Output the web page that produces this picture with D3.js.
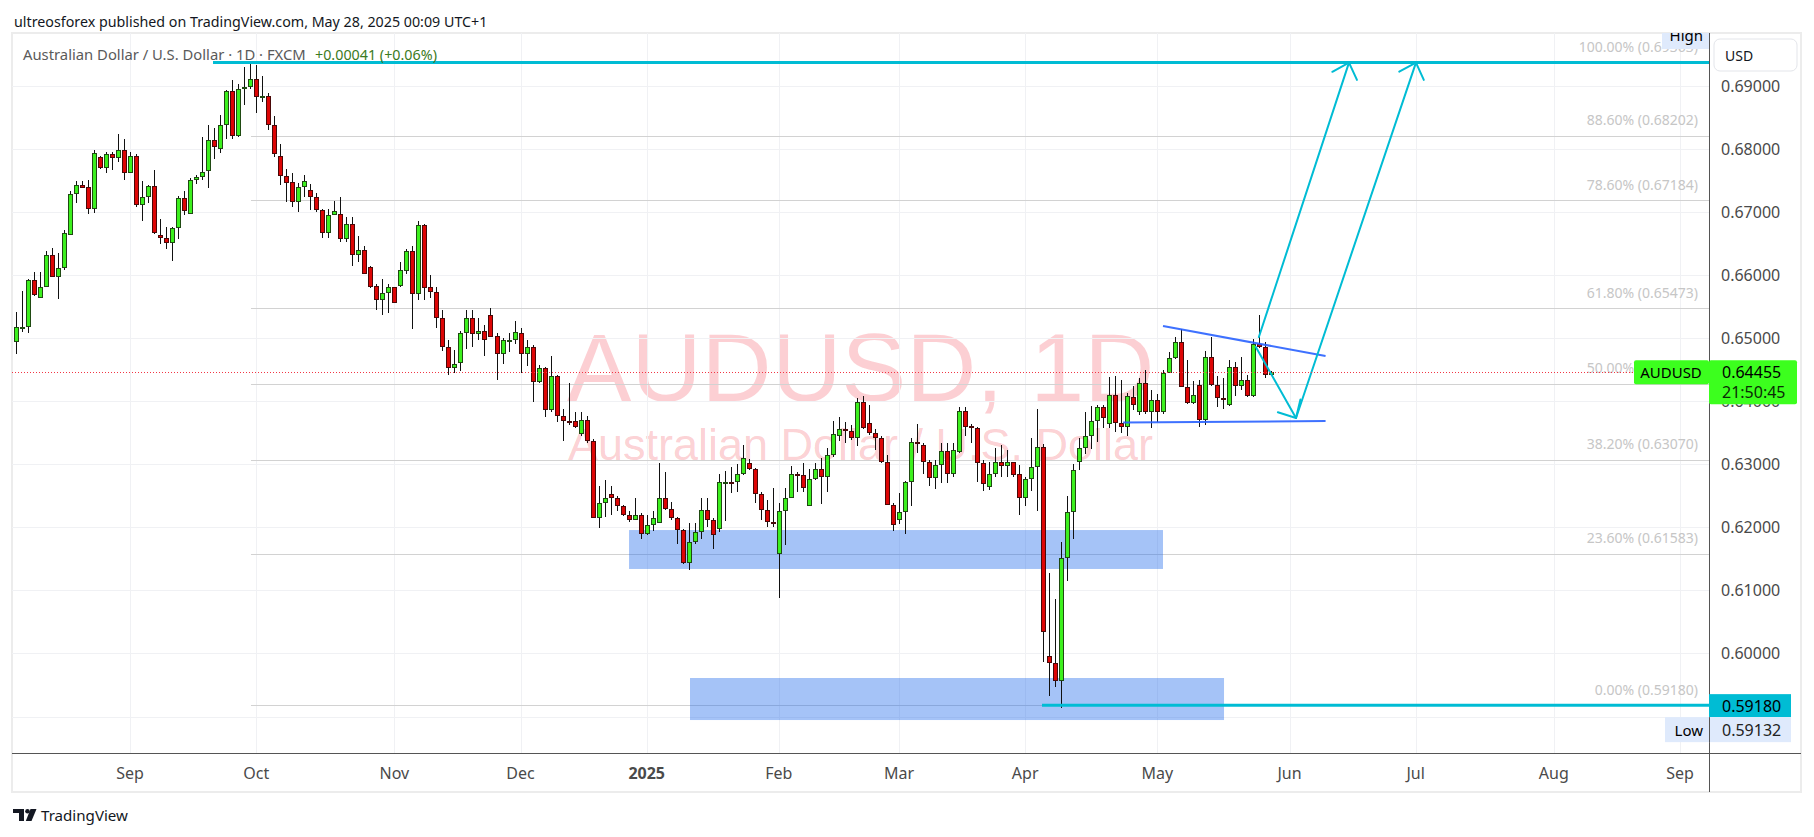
<!DOCTYPE html>
<html><head><meta charset="utf-8">
<script src="https://cdn.jsdelivr.net/npm/d3@7"></script>
<style>html,body{margin:0;padding:0;background:#fff;} svg{display:block}</style>
</head><body>
<svg id="c" width="1814" height="837"></svg>
<script>
// ---------------- DATA ----------------
const startDate = "2024-08-06";
const holidays = ["2024-12-25", "2025-01-01"];

const open = [
0.6493,0.6515,0.6517,0.6592,0.6564,0.6581,0.6632,0.6596,0.6610,0.6663,
0.6728,0.6743,0.6739,0.6704,0.6787,0.6770,0.6791,0.6785,0.6797,0.6762,
0.6789,0.6710,0.6724,0.6740,0.6663,0.6659,0.6651,0.6674,0.6721,0.6697,
0.6750,0.6755,0.6764,0.6814,0.6800,0.6837,0.6891,0.6820,0.6894,0.6898,
0.6911,0.6881,0.6884,0.6838,0.6788,0.6756,0.6747,0.6716,0.6739,0.6734,
0.6724,0.6702,0.6666,0.6695,0.6697,0.6657,0.6681,0.6632,0.6639,0.6613,
0.6582,0.6560,0.6571,0.6581,0.6583,0.6606,0.6638,0.6569,0.6679,0.6580,
0.6572,0.6531,0.6485,0.6453,0.6460,0.6507,0.6532,0.6506,0.6511,0.6536,
0.6503,0.6474,0.6496,0.6497,0.6507,0.6474,0.6485,0.6430,0.6452,0.6386,
0.6439,0.6376,0.6369,0.6368,0.6347,0.6370,0.6336,0.6215,0.6238,0.6252,
0.6247,0.6233,0.6219,0.6212,0.6220,0.6189,0.6203,0.6207,0.6246,0.6229,
0.6214,0.6195,0.6144,0.6176,0.6193,0.6227,0.6212,0.6197,0.6271,0.6272,
0.6271,0.6284,0.6302,0.6292,0.6252,0.6227,0.6208,0.6157,0.6225,0.6247,
0.6284,0.6282,0.6233,0.6276,0.6293,0.6279,0.6315,0.6344,0.6355,0.6352,
0.6342,0.6399,0.6365,0.6349,0.6342,0.6304,0.6235,0.6211,0.6224,0.6271,
0.6335,0.6331,0.6303,0.6278,0.6298,0.6321,0.6284,0.6319,0.6384,0.6360,
0.6357,0.6302,0.6263,0.6285,0.6303,0.6297,0.6303,0.6284,0.6247,0.6276,
0.6296,0.6327,0.5996,0.5984,0.5957,0.6151,0.6224,0.6303,0.6325,0.6344,
0.6369,0.6390,0.6363,0.6409,0.6365,0.6359,0.6407,0.6383,0.6429,0.6382,
0.6402,0.6382,0.6445,0.6468,0.6493,0.6422,0.6397,0.6425,0.6370,0.6469,
0.6426,0.6404,0.6394,0.6454,0.6423,0.6433,0.6408,0.6491,0.6485,0.64414
];
const high = [
0.6541,0.6575,0.6593,0.6605,0.6605,0.6638,0.6642,0.6634,0.6671,0.6733,
0.6749,0.6748,0.6751,0.6798,0.6788,0.6795,0.6795,0.6823,0.6815,0.6795,
0.6791,0.6749,0.6742,0.6766,0.6688,0.6675,0.6675,0.6725,0.6733,0.6753,
0.6758,0.6819,0.6837,0.6832,0.6853,0.6893,0.6908,0.6903,0.6930,0.6937,
0.6932,0.6915,0.6888,0.6852,0.6808,0.6768,0.6761,0.6745,0.6758,0.6744,
0.6730,0.6704,0.6705,0.6717,0.6724,0.6692,0.6692,0.6662,0.6646,0.6614,
0.6586,0.6594,0.6585,0.6581,0.6620,0.6641,0.6645,0.6686,0.6681,0.6599,
0.6580,0.6545,0.6497,0.6481,0.6511,0.6544,0.6544,0.6532,0.6520,0.6548,
0.6507,0.6500,0.6507,0.6527,0.6515,0.6497,0.6489,0.6457,0.6454,0.6472,
0.6441,0.6388,0.6428,0.6383,0.6382,0.6377,0.6339,0.6265,0.6275,0.6265,
0.6249,0.6235,0.6225,0.6246,0.6222,0.6220,0.6226,0.6302,0.6287,0.6240,
0.6216,0.6197,0.6206,0.6207,0.6246,0.6246,0.6214,0.6285,0.6289,0.6296,
0.6300,0.6330,0.6308,0.6294,0.6255,0.6243,0.6262,0.6238,0.6262,0.6297,
0.6288,0.6301,0.6293,0.6301,0.6309,0.6325,0.6368,0.6374,0.6367,0.6362,
0.6404,0.6408,0.6393,0.6355,0.6345,0.6314,0.6238,0.6254,0.6273,0.6342,
0.6364,0.6333,0.6307,0.6307,0.6334,0.6333,0.6333,0.6391,0.6390,0.6364,
0.6359,0.6307,0.6304,0.6325,0.6330,0.6322,0.6304,0.6299,0.6280,0.6341,
0.6388,0.6332,0.6128,0.6086,0.6176,0.6249,0.6300,0.6342,0.6382,0.6392,
0.6394,0.6394,0.6438,0.6439,0.6434,0.6412,0.6424,0.6436,0.6449,0.6417,
0.6411,0.6449,0.6478,0.6502,0.6514,0.6465,0.6432,0.6433,0.6479,0.6502,
0.6439,0.6436,0.6465,0.6462,0.6470,0.6441,0.6499,0.6536,0.6494,0.6447
];
const low = [
0.6474,0.6510,0.6508,0.6566,0.6564,0.6580,0.6596,0.6561,0.6608,0.6663,
0.6713,0.6737,0.6697,0.6698,0.6767,0.6762,0.6766,0.6779,0.6751,0.6761,
0.6708,0.6686,0.6714,0.6665,0.6649,0.6641,0.6622,0.6657,0.6695,0.6697,
0.6744,0.6751,0.6738,0.6783,0.6793,0.6815,0.6816,0.6819,0.6869,0.6895,
0.6856,0.6874,0.6830,0.6787,0.6742,0.6715,0.6708,0.6700,0.6724,0.6702,
0.6700,0.6659,0.6659,0.6695,0.6652,0.6652,0.6614,0.6621,0.6601,0.6579,
0.6545,0.6537,0.6540,0.6555,0.6580,0.6602,0.6514,0.6560,0.6560,0.6563,
0.6515,0.6480,0.6441,0.6444,0.6448,0.6483,0.6485,0.6497,0.6472,0.6502,
0.6433,0.6458,0.6478,0.6491,0.6444,0.6456,0.6399,0.6428,0.6374,0.6382,
0.6366,0.6337,0.6362,0.6358,0.6345,0.6333,0.6214,0.6199,0.6216,0.6220,
0.6225,0.6217,0.6209,0.6211,0.6181,0.6188,0.6194,0.6206,0.6228,0.6211,
0.6173,0.6142,0.6132,0.6173,0.6182,0.6201,0.6165,0.6192,0.6210,0.6254,
0.6255,0.6283,0.6291,0.6238,0.6211,0.6200,0.6201,0.6088,0.6171,0.6246,
0.6256,0.6256,0.6233,0.6275,0.6237,0.6255,0.6311,0.6336,0.6333,0.6338,
0.6328,0.6355,0.6346,0.6322,0.6302,0.6235,0.6194,0.6205,0.6189,0.6234,
0.6317,0.6284,0.6265,0.6260,0.6270,0.6270,0.6279,0.6318,0.6345,0.6333,
0.6272,0.6258,0.6259,0.6279,0.6279,0.6280,0.6280,0.6219,0.6233,0.6258,
0.6226,0.5987,0.5933,0.5947,0.59132,0.6115,0.6182,0.6291,0.6316,0.6324,
0.6335,0.6357,0.6357,0.6351,0.6349,0.6344,0.6386,0.6378,0.6380,0.6357,
0.6367,0.6380,0.6444,0.6466,0.6422,0.6396,0.6396,0.6359,0.6362,0.6423,
0.6391,0.6388,0.6392,0.6408,0.6417,0.6407,0.6407,0.6484,0.6436,0.6440
];
const close = [
0.6517,0.6518,0.6592,0.6568,0.6581,0.6632,0.6596,0.6610,0.6666,0.6728,
0.6743,0.6738,0.6704,0.6793,0.6770,0.6791,0.6785,0.6797,0.6761,0.6789,
0.6710,0.6724,0.6740,0.6666,0.6659,0.6651,0.6674,0.6721,0.6701,0.6750,
0.6755,0.6763,0.6814,0.6802,0.6837,0.6891,0.6820,0.6894,0.6897,0.6911,
0.6881,0.6884,0.6838,0.6791,0.6756,0.6746,0.6716,0.6739,0.6748,0.6724,
0.6702,0.6666,0.6695,0.6701,0.6657,0.6681,0.6632,0.6639,0.6601,0.6581,
0.6560,0.6571,0.6581,0.6556,0.6608,0.6638,0.6569,0.6679,0.6579,0.6572,
0.6531,0.6485,0.6453,0.6459,0.6507,0.6532,0.6506,0.6511,0.6496,0.6502,
0.6474,0.6497,0.6497,0.6509,0.6474,0.6485,0.6430,0.6452,0.6386,0.6439,
0.6376,0.6368,0.6368,0.6359,0.6370,0.6336,0.6215,0.6238,0.6246,0.6247,
0.6233,0.6219,0.6211,0.6220,0.6189,0.6203,0.6214,0.6246,0.6229,0.6214,
0.6195,0.6144,0.6176,0.6193,0.6227,0.6212,0.6187,0.6272,0.6272,0.6271,
0.6284,0.6309,0.6292,0.6252,0.6227,0.6208,0.6207,0.6225,0.6247,0.6284,
0.6283,0.6262,0.6276,0.6293,0.6279,0.6315,0.6347,0.6355,0.6352,0.6342,
0.6399,0.6357,0.6349,0.6342,0.6304,0.6235,0.6203,0.6224,0.6271,0.6335,
0.6333,0.6304,0.6278,0.6298,0.6321,0.6284,0.6322,0.6384,0.6359,0.6357,
0.6302,0.6268,0.6285,0.6303,0.6297,0.6303,0.6282,0.6247,0.6276,0.6296,
0.6327,0.6034,0.5984,0.5957,0.6151,0.6224,0.6291,0.6325,0.6344,0.6369,
0.6390,0.6373,0.6409,0.6365,0.6359,0.6408,0.6393,0.6429,0.6383,0.6402,
0.6382,0.6444,0.6468,0.6493,0.6422,0.6397,0.6409,0.6370,0.6469,0.6426,
0.6404,0.6402,0.6454,0.6423,0.6433,0.6408,0.6491,0.6485,0.6441,0.64455
];

const tickDates  = ["2024-09-02","2024-10-01","2024-11-01","2024-12-02","2025-01-02","2025-02-03","2025-03-03","2025-04-01","2025-05-01","2025-06-02","2025-07-01","2025-08-01","2025-09-01"];
const tickLabels = ["Sep","Oct","Nov","Dec","2025","Feb","Mar","Apr","May","Jun","Jul","Aug","Sep"];
const gridPrices = [0.59,0.60,0.61,0.62,0.63,0.64,0.65,0.66,0.67,0.68,0.69];
const priceLabels = [0.60,0.61,0.62,0.63,0.64,0.65,0.66,0.67,0.68,0.69];

const fibLevels = ["100.00%","88.60%","78.60%","61.80%","50.00%","38.20%","23.60%","0.00%"];
const fibValues = [0.69363,0.68202,0.67184,0.65473,0.64272,0.63070,0.61583,0.59180];

const lastPrice = 0.64455;
const lowPrice = 0.59132;

// drawings: [barIndex, price]
const zones = [ [[102.06,0.61955],[190.94,0.61338]], [[112.21,0.59610],[201.1,0.58944]] ];
const fibStart = 39.13;
const cyanLines = [ [32.81,0.69363], [170.8,0.59180] ];
const trendLines = [ [[190.94,0.65189],[218.0,0.64713]], [[184.3,0.63659],[218.0,0.63683]] ];
const arrows = [ [[206.4,0.64856],[213.08,0.63731]], [[206.9,0.65014],[221.9,0.69363]], [[213.08,0.63731],[233.05,0.69363]] ];

// ---------------- SETUP ----------------
const svg = d3.select("#c");
const P = {l:12, r:1709, t:33, b:753};
const FONT = "'Noto Sans', 'Open Sans', sans-serif";

const hol = new Set(holidays);
const dates = [];
{
  let d = new Date(startDate + "T00:00:00Z");
  while (dates.length < 300) {
    const wd = d.getUTCDay();
    const s = d.toISOString().slice(0,10);
    if (wd !== 0 && wd !== 6 && !hol.has(s)) dates.push(s);
    d = new Date(d.getTime() + 86400000);
  }
}
const idxOf = s => dates.indexOf(s);

const x = d3.scaleLinear().domain([0, 277]).range([15.9, 1680]);
const y = d3.scaleLinear().domain([0.59, 0.69]).range([716.5, 85.5]);

const defs = svg.append("defs");
defs.append("clipPath").attr("id","plotClip").append("rect")
  .attr("x",P.l).attr("y",P.t).attr("width",P.r-P.l).attr("height",P.b-P.t);
defs.append("clipPath").attr("id","topClip").append("rect")
  .attr("x",0).attr("y",P.t).attr("width",1814).attr("height",P.b-P.t);

svg.append("rect").attr("width",1814).attr("height",837).attr("fill","#fff");

svg.append("rect").attr("x",12).attr("y",33).attr("width",1789).attr("height",759)
  .attr("fill","none").attr("stroke","#ececec").attr("stroke-width",2);

const plot = svg.append("g").attr("clip-path","url(#plotClip)");

// watermark
plot.append("text").attr("x",(P.l+P.r)/2).attr("y",401).attr("text-anchor","middle")
  .attr("font-family","'Liberation Sans', Arial, sans-serif").attr("font-size",97)
  .attr("fill","#f23645").attr("fill-opacity",0.24).text("AUDUSD, 1D");
plot.append("text").attr("x",(P.l+P.r)/2).attr("y",460).attr("text-anchor","middle")
  .attr("font-family","'Liberation Sans', Arial, sans-serif").attr("font-size",45)
  .attr("fill","#f23645").attr("fill-opacity",0.24).text("Australian Dollar / U.S. Dollar");

// grid
plot.append("g").selectAll("line").data(gridPrices).join("line")
  .attr("x1",P.l).attr("x2",P.r)
  .attr("y1",d=>Math.round(y(d))+0.5).attr("y2",d=>Math.round(y(d))+0.5)
  .attr("stroke","#f0f1f4").attr("stroke-width",1);
plot.append("g").selectAll("line").data(tickDates).join("line")
  .attr("y1",P.t).attr("y2",P.b)
  .attr("x1",d=>Math.round(x(idxOf(d)))+0.5).attr("x2",d=>Math.round(x(idxOf(d)))+0.5)
  .attr("stroke","#f0f1f4").attr("stroke-width",1);

// fib lines + labels
plot.append("g").selectAll("line").data(fibValues).join("line")
  .attr("x1",x(fibStart)).attr("x2",P.r)
  .attr("y1",d=>Math.round(y(d))+0.5).attr("y2",d=>Math.round(y(d))+0.5)
  .attr("stroke","#d2d2d2").attr("stroke-width",1);
plot.append("g").selectAll("text").data(fibValues).join("text")
  .attr("x",1698).attr("y",d=>y(d)-16).attr("text-anchor","end").attr("dominant-baseline","central")
  .attr("font-family",FONT).attr("font-size",14).attr("fill","#c6c6c6")
  .text((d,i)=>`${fibLevels[i]} (${d.toFixed(5)})`);

// zones
plot.append("g").selectAll("rect").data(zones).join("rect")
  .attr("x",d=>x(d[0][0])).attr("width",d=>x(d[1][0])-x(d[0][0]))
  .attr("y",d=>y(d[0][1])).attr("height",d=>y(d[1][1])-y(d[0][1]))
  .attr("fill","rgb(30,105,235)").attr("fill-opacity",0.4);

// candles
const bars = open.map((o,i)=>({i, o, h:high[i], l:low[i], c:close[i], up: close[i] >= o}));
const cg = plot.append("g").attr("shape-rendering","crispEdges");
cg.selectAll("line").data(bars).join("line")
  .attr("x1",d=>Math.round(x(d.i))+0.5).attr("x2",d=>Math.round(x(d.i))+0.5)
  .attr("y1",d=>Math.round(y(d.h))).attr("y2",d=>Math.round(y(d.l)))
  .attr("stroke","#111").attr("stroke-width",1);
const bodyTop = d => Math.round(y(Math.max(d.o,d.c)));
const bodyH = d => Math.max(1, Math.round(y(Math.min(d.o,d.c))) - bodyTop(d));
cg.selectAll("rect.b").data(bars).join("rect").attr("class","b")
  .attr("x",d=>Math.round(x(d.i))-2).attr("width",5)
  .attr("y",bodyTop).attr("height",d=>Math.max(2,bodyH(d)))
  .attr("fill",d=>d.up ? "#1f4a12" : "#4a0808");
cg.selectAll("rect.f").data(bars.filter(d=>bodyH(d)>2)).join("rect").attr("class","f")
  .attr("x",d=>Math.round(x(d.i))-1).attr("width",3)
  .attr("y",d=>bodyTop(d)+1).attr("height",d=>bodyH(d)-2)
  .attr("fill",d=>d.up ? "#3cf01e" : "#dd0505");

// cyan fib anchor lines
plot.append("g").selectAll("line").data(cyanLines).join("line")
  .attr("x1",d=>x(d[0])).attr("x2",P.r)
  .attr("y1",d=>y(d[1])).attr("y2",d=>y(d[1]))
  .attr("stroke","#00bcd4").attr("stroke-width",3);

// trend lines
plot.append("g").selectAll("line").data(trendLines).join("line")
  .attr("x1",d=>x(d[0][0])).attr("y1",d=>y(d[0][1]))
  .attr("x2",d=>x(d[1][0])).attr("y2",d=>y(d[1][1]))
  .attr("stroke","#2962ff").attr("stroke-width",2).attr("stroke-opacity",0.9);

// arrows
const ag = plot.append("g").attr("stroke","#00bcd4").attr("stroke-width",2).attr("fill","none").attr("stroke-linecap","round");
arrows.forEach(a=>{
  const x1=x(a[0][0]), y1=y(a[0][1]), x2=x(a[1][0]), y2=y(a[1][1]);
  ag.append("line").attr("x1",x1).attr("y1",y1).attr("x2",x2).attr("y2",y2);
  const ang = Math.atan2(y1-y2, x1-x2);
  const L = 19, sp = 43*Math.PI/180;
  [ang+sp, ang-sp].forEach(t=>{
    ag.append("line").attr("x1",x2).attr("y1",y2)
      .attr("x2",x2+L*Math.cos(t)).attr("y2",y2+L*Math.sin(t));
  });
});

// last price dotted line
plot.append("line").attr("x1",P.l).attr("x2",P.r)
  .attr("y1",Math.round(y(lastPrice))+0.5).attr("y2",Math.round(y(lastPrice))+0.5)
  .attr("stroke","#f23645").attr("stroke-width",1).attr("stroke-dasharray","1,2");

// AUDUSD tag inside plot
const yl = y(lastPrice);
svg.append("rect").attr("x",1634).attr("y",yl-12).attr("width",75).attr("height",24).attr("rx",2).attr("fill","#3cff1e");
svg.append("text").attr("x",1671).attr("y",yl).attr("text-anchor","middle").attr("dominant-baseline","central")
  .attr("font-family",FONT).attr("font-size",15).attr("fill","#000").text("AUDUSD");

// High box (clipped by top of plot)
const hg = svg.append("g").attr("clip-path","url(#topClip)");
hg.append("rect").attr("x",1662).attr("y",25).attr("width",47).attr("height",24).attr("fill","#dfeafc");
hg.append("text").attr("x",1703).attr("y",35).attr("text-anchor","end").attr("dominant-baseline","central")
  .attr("font-family",FONT).attr("font-size",15).attr("fill","#000").text("High");

// axes lines
svg.append("line").attr("x1",12).attr("x2",1801).attr("y1",P.b+0.5).attr("y2",P.b+0.5).attr("stroke","#555").attr("stroke-width",1);
svg.append("line").attr("x1",P.r+0.5).attr("x2",P.r+0.5).attr("y1",P.t).attr("y2",792).attr("stroke","#555").attr("stroke-width",1);

// price axis labels
svg.append("g").selectAll("text").data(priceLabels).join("text")
  .attr("x",1721).attr("y",d=>y(d)).attr("dominant-baseline","central")
  .attr("font-family",FONT).attr("font-size",16).attr("fill","#4a4a4a")
  .text(d=>d.toFixed(5));

// time axis labels
svg.append("g").selectAll("text").data(tickDates).join("text")
  .attr("x",d=>x(idxOf(d))).attr("y",773).attr("text-anchor","middle").attr("dominant-baseline","central")
  .attr("font-family",FONT).attr("font-size",16).attr("fill","#4a4a4a")
  .attr("font-weight",(d,i)=>tickLabels[i]==="2025"?700:400)
  .text((d,i)=>tickLabels[i]);

// USD box
svg.append("rect").attr("x",1714).attr("y",39).attr("width",83).attr("height",32).attr("rx",6)
  .attr("fill","#fff").attr("stroke","#e3e5ea").attr("stroke-width",1);
svg.append("text").attr("x",1725).attr("y",55).attr("dominant-baseline","central")
  .attr("font-family",FONT).attr("font-size",14).attr("fill","#131722").text("USD");

// last price tag on axis
svg.append("rect").attr("x",1709).attr("y",yl-12).attr("width",88).attr("height",44).attr("rx",2).attr("fill","#3cff1e");
svg.append("text").attr("x",1722).attr("y",yl).attr("dominant-baseline","central")
  .attr("font-family",FONT).attr("font-size",16).attr("fill","#000").text(lastPrice.toFixed(5));
svg.append("text").attr("x",1722).attr("y",yl+20).attr("dominant-baseline","central")
  .attr("font-family",FONT).attr("font-size",16).attr("fill","#0b2a06").text("21:50:45");

// 0.59180 tag
const yz = y(fibValues[7]);
svg.append("rect").attr("x",1709).attr("y",yz-11).attr("width",82).attr("height",23).attr("fill","#00bcd4");
svg.append("text").attr("x",1722).attr("y",yz+0.5).attr("dominant-baseline","central")
  .attr("font-family",FONT).attr("font-size",16).attr("fill","#000").text(fibValues[7].toFixed(5));

// Low box
svg.append("rect").attr("x",1665).attr("y",yz+12).attr("width",126).attr("height",25).attr("fill","#dfeafc");
svg.append("line").attr("x1",P.r+0.5).attr("x2",P.r+0.5).attr("y1",yz+12).attr("y2",yz+37).attr("stroke","#555");
svg.append("text").attr("x",1703).attr("y",yz+25).attr("text-anchor","end").attr("dominant-baseline","central")
  .attr("font-family",FONT).attr("font-size",15).attr("fill","#000").text("Low");
svg.append("text").attr("x",1722).attr("y",yz+25).attr("dominant-baseline","central")
  .attr("font-family",FONT).attr("font-size",16).attr("fill","#222").text(lowPrice.toFixed(5));

// title & legend
function fit(sel, w) {
  const cur = sel.node().getComputedTextLength();
  const fs = parseFloat(sel.attr("font-size"));
  sel.attr("font-size", (fs*w/cur).toFixed(2));
}
const title = svg.append("text").attr("x",14).attr("y",21).attr("dominant-baseline","central")
  .attr("font-family",FONT).attr("font-size",15).attr("fill","#131722")
  .text("ultreosforex published on TradingView.com, May 28, 2025 00:09 UTC+1");
fit(title, 474);
const lg1 = svg.append("text").attr("x",23).attr("y",54).attr("dominant-baseline","central")
  .attr("font-family",FONT).attr("font-size",14).attr("fill","#5a5a5a")
  .text("Australian Dollar / U.S. Dollar · 1D · FXCM");
fit(lg1, 283);
const lg2 = svg.append("text").attr("x",315).attr("y",54).attr("dominant-baseline","central")
  .attr("font-family",FONT).attr("font-size",14).attr("fill","#3b7a22")
  .text("+0.00041 (+0.06%)");
fit(lg2, 122);

// TradingView logo
const lgG = svg.append("g").attr("fill","#131722");
lgG.append("path").attr("d","M13,809 H24 V821 H19 V813 H13 Z");
lgG.append("circle").attr("cx",27.5).attr("cy",811.2).attr("r",2.3);
lgG.append("path").attr("d","M30.5,809 H36.5 L31.5,821 H25.8 Z");
const tv = svg.append("text").attr("x",41).attr("y",815).attr("dominant-baseline","central")
  .attr("font-family",FONT).attr("font-size",15).attr("fill","#131722").text("TradingView");
fit(tv, 87);
</script>
</body></html>
